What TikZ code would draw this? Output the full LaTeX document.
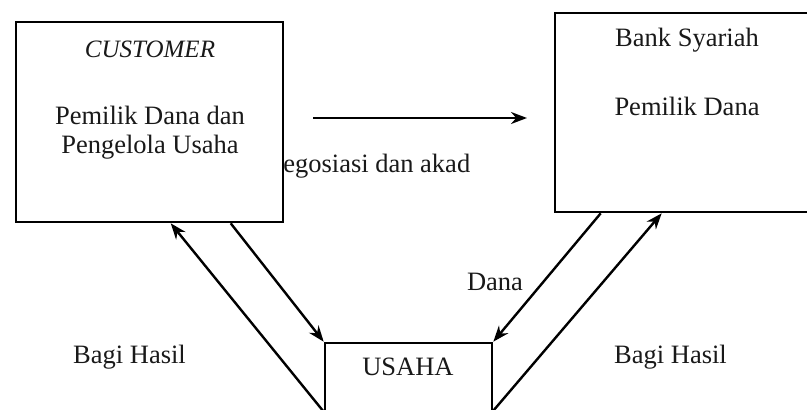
\documentclass[tikz,border=0pt]{standalone}
\usepackage{fontspec}
\setmainfont{Liberation Serif}
\usetikzlibrary{arrows.meta,calc}
\begin{document}
\begin{tikzpicture}[x=1pt,y=-1pt,
  box/.style={draw=black,line width=2.6pt,fill=white,rectangle,inner sep=0pt},
  lbl/.style={inner sep=0pt,anchor=base,text=black!90,font=\fontsize{26.5}{29}\selectfont},
  conn/.style={line width=2.4pt,-{Stealth[length=16pt,width=12pt]}}]
\useasboundingbox (0,0) rectangle (807,410);
\clip (0,0) rectangle (807,410);
% label partly hidden behind the customer box
\node[lbl,anchor=base west] (nego) at (264,172) {Negosiasi dan akad};
\node[box,minimum width=267pt,minimum height=200pt] (cust) at (149.5,122) {};
\node[box,minimum width=262pt,minimum height=199pt] (bank) at (686,112.5) {};
\node[box,minimum width=167pt,minimum height=90pt] (usaha) at (408.5,388) {};
\node[lbl,font=\fontsize{25}{29}\itshape] (custt) at (150,57) {CUSTOMER};
\node[lbl] (cust1) at (150,124) {Pemilik Dana dan};
\node[lbl] (cust2) at (150,153) {Pengelola Usaha};
\node[lbl] (bank1) at (687,46) {Bank Syariah};
\node[lbl] (bank2) at (687,115) {Pemilik Dana};
\node[lbl] (usahat) at (408,375) {USAHA};
\node[lbl] (dana) at (495,290) {Dana};
\node[lbl] (bhl) at (129.5,363) {Bagi Hasil};
\node[lbl] (bhr) at (670.5,363) {Bagi Hasil};
\coordinate (hs) at (313,118);
\coordinate (he) at (527,118);
\draw[conn] (hs) -- (he);
\draw[conn] ($(cust.south west)+(216,0)$) -- (usaha.north west);
\draw[conn] ($(usaha.north west)+(0,70)$) -- ($(cust.south west)+(156,0)$);
\draw[conn] ($(bank.south west)+(47,0)$) -- (usaha.north east);
\draw[conn] ($(usaha.north east)+(0,69)$) -- ($(bank.south west)+(108,0)$);
\end{tikzpicture}
\end{document}
